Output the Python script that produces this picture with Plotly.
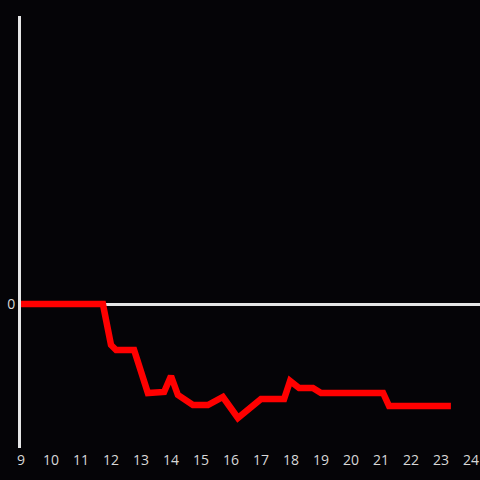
import plotly.graph_objects as go

hours = [9, 11.73, 12.0, 12.17, 12.77, 13.23, 13.77, 14.0, 14.23, 14.73, 15.23, 15.73,
         16.23, 17.0, 17.77, 17.97, 18.27, 18.73, 19.0, 21.07, 21.27, 23.33]
values = [0, 0, -4.1, -4.6, -4.6, -8.9, -8.8, -7.2, -9.1, -10.1, -10.1, -9.3,
          -11.4, -9.5, -9.5, -7.7, -8.4, -8.4, -8.9, -8.9, -10.2, -10.2]
x_ticks = list(range(9, 25))

fig = go.Figure(go.Scatter(x=hours, y=values, mode="lines",
                           line=dict(color="#ff0000", width=6.5), hoverinfo="skip"))

fig.update_layout(
    width=480, height=480,
    margin=dict(l=21, r=0, t=16, b=32),
    paper_bgcolor="#050407", plot_bgcolor="#050407",
    showlegend=False,
    font=dict(family="Open Sans", size=14, color="#d8d8d8"),
)
fig.update_xaxes(range=[9, 24.3], tickvals=x_ticks, showgrid=False, zeroline=False,
                 showline=False, ticks="", ticklabelstandoff=2,
                 tickfont=dict(size=14, color="#d8d8d8"))
fig.update_yaxes(range=[-14.4, 28.8], tickvals=[0], showgrid=False, zeroline=True,
                 zerolinecolor="#e6e6e6", zerolinewidth=3, showline=True,
                 linecolor="#e6e6e6", linewidth=3, ticks="",
                 tickfont=dict(size=14, color="#d8d8d8"))

fig.write_html("out.html", config={"displayModeBar": False},
               post_script="document.body.style.margin='0';document.body.style.overflow='hidden';document.body.style.background='#050407';")
